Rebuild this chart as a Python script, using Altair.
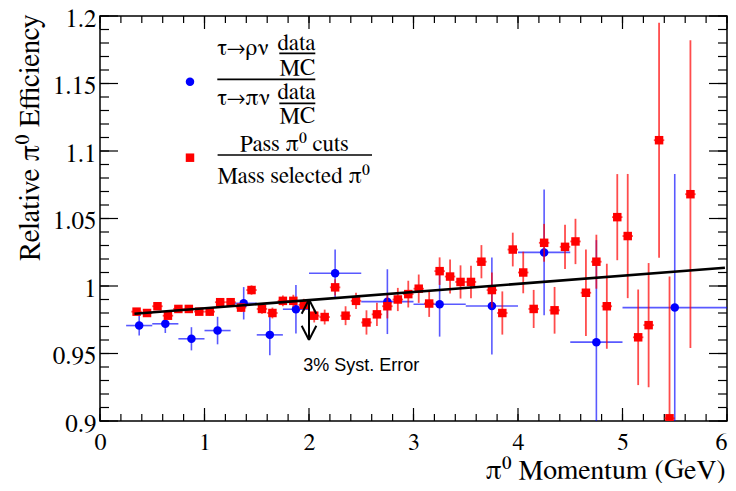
import altair as alt
import pandas as pd
import numpy as np

# ---------------- data ----------------
# Pass pi0 cuts / Mass selected pi0  (red squares, 0.1 GeV bins)
red_x = [0.35, 0.45, 0.55, 0.65, 0.75, 0.85, 0.95, 1.05, 1.15, 1.25,
         1.35, 1.45, 1.55, 1.65, 1.75, 1.85, 1.95, 2.05, 2.15, 2.25,
         2.35, 2.45, 2.55, 2.65, 2.75, 2.85, 2.95, 3.05, 3.15, 3.25,
         3.35, 3.45, 3.55, 3.65, 3.75, 3.85, 3.95, 4.05, 4.15, 4.25,
         4.35, 4.45, 4.55, 4.65, 4.75, 4.85, 4.95, 5.05, 5.15, 5.25,
         5.35, 5.45, 5.65]
red_y = [0.981, 0.980, 0.985, 0.978, 0.983, 0.983, 0.981, 0.981, 0.988, 0.988,
         0.984, 0.997, 0.983, 0.980, 0.989, 0.989, 0.986, 0.978, 0.977, 0.999,
         0.978, 0.989, 0.973, 0.979, 0.985, 0.990, 0.994, 0.998, 0.987, 1.011,
         1.007, 1.003, 1.003, 1.018, 0.997, 0.980, 1.027, 1.010, 0.983, 1.032,
         0.982, 1.029, 1.033, 0.995, 1.018, 0.985, 1.051, 1.037, 0.962, 0.971,
         1.108, 0.902, 1.068]
red_err = [0.002, 0.002, 0.002, 0.002, 0.002, 0.0025, 0.0025, 0.003, 0.003, 0.003,
           0.003, 0.0035, 0.0035, 0.004, 0.004, 0.0045, 0.0045, 0.005, 0.0055, 0.006,
           0.007, 0.006, 0.009, 0.0086, 0.009, 0.0086, 0.0099, 0.0105, 0.0099, 0.0102,
           0.0126, 0.0123, 0.012, 0.0123, 0.013, 0.016, 0.0125, 0.0154, 0.0141, 0.014,
           0.0173, 0.0164, 0.0168, 0.032, 0.02, 0.0315, 0.0319, 0.046, 0.0354, 0.046,
           0.087, 0.105, 0.114]
red_halfbin = 0.05

# tau->rho nu (data/MC) / tau->pi nu (data/MC)  (blue circles)
blue_x = [0.375, 0.625, 0.875, 1.125, 1.375, 1.625, 1.875,
          2.25, 2.75, 3.25, 3.75, 4.25, 4.75, 5.5]
blue_xerr = [0.125, 0.125, 0.125, 0.125, 0.125, 0.125, 0.125,
             0.25, 0.25, 0.25, 0.25, 0.25, 0.25, 0.5]
blue_y = [0.9707, 0.9720, 0.9609, 0.9670, 0.9872, 0.9638, 0.9828,
          1.0094, 0.9884, 0.9865, 0.9852, 1.0249, 0.9584, 0.984]
blue_err = [0.0074, 0.0068, 0.0086, 0.0102, 0.012, 0.0151, 0.018,
            0.0177, 0.024, 0.024, 0.036, 0.0465, 0.0756, 0.099]

# straight-line fit (end points)
fit_x = [0.33, 5.98]
fit_y = [0.9795, 1.0135]

# 3% systematic error arrow
syst_x = 2.0
syst_hi = 0.990
syst_lo = 0.960
syst_label = "3% Syst. Error"

# axis ticks
x_major = [0, 1, 2, 3, 4, 5, 6]
x_minor = [round(v, 2) for v in np.arange(0, 6.001, 0.2)]
y_major = [0.9, 0.95, 1.0, 1.05, 1.1, 1.15, 1.2]
y_minor = [round(v, 3) for v in np.arange(0.9, 1.2001, 0.01)]

# ---------------- styling ----------------
W, H = 627, 405
SERIF = "FreeSerif, Liberation Serif, serif"
SANS = "Liberation Sans, Arial, sans-serif"
RED = "#ff0000"
BLUE = "#0000ff"

red_df = pd.DataFrame({"x": red_x, "y": red_y})
red_df["lo"] = red_df["y"] - pd.Series(red_err)
red_df["hi"] = red_df["y"] + pd.Series(red_err)
red_df["xlo"] = red_df["x"] - red_halfbin
red_df["xhi"] = red_df["x"] + red_halfbin

blue_df = pd.DataFrame({"x": blue_x, "y": blue_y})
blue_df["lo"] = blue_df["y"] - pd.Series(blue_err)
blue_df["hi"] = blue_df["y"] + pd.Series(blue_err)
blue_df["xlo"] = blue_df["x"] - pd.Series(blue_xerr)
blue_df["xhi"] = blue_df["x"] + pd.Series(blue_xerr)

fit_df = pd.DataFrame({"x": fit_x, "y": fit_y})

hdx, hdy = 0.07, 0.0105
arrow_df = pd.DataFrame({
    "x":  [syst_x, syst_x - hdx, syst_x + hdx, syst_x - hdx, syst_x + hdx],
    "y":  [syst_lo, syst_hi - hdy, syst_hi - hdy, syst_lo + hdy, syst_lo + hdy],
    "x2": [syst_x, syst_x, syst_x, syst_x, syst_x],
    "y2": [syst_hi, syst_hi, syst_hi, syst_lo, syst_lo],
})

xscale = alt.Scale(domain=[0, 6], nice=False, zero=False)
yscale = alt.Scale(domain=[0.9, 1.2], nice=False, zero=False)

xaxis = alt.Axis(values=x_major, format="~g", ticks=False, domain=False, grid=False,
                 labelFont=SERIF, labelFontSize=24, labelColor="black", labelPadding=9,
                 labelFlush=False, labelOverlap=False, labelBound=False,
                 labelAlign={"condition": {"test": "datum.value >= 6", "value": "right"},
                             "value": "center"},
                 title="π⁰ Momentum (GeV)", titleFont=SERIF, titleFontSize=28,
                 titleFontWeight="normal", titleColor="black",
                 titleAnchor="end", titleAlign="right", titleX=625, titleY=57,
                 titleBaseline="alphabetic")
yaxis = alt.Axis(values=y_major, format="~g", ticks=False, domain=False, grid=False,
                 labelFont=SERIF, labelFontSize=25, labelColor="black", labelPadding=4,
                 labelOffset=2,
                 labelFlush=False, labelOverlap=False, labelBound=False,
                 title="Relative π⁰ Efficiency", titleFont=SERIF, titleFontSize=29,
                 titleFontWeight="normal", titleColor="black",
                 titleAnchor="end", titleAlign="right", titleAngle=270,
                 titleX=-62, titleY=-2, titleBaseline="alphabetic")

X = lambda f: alt.X(f, type="quantitative", scale=xscale, axis=xaxis)
Y = lambda f: alt.Y(f, type="quantitative", scale=yscale, axis=yaxis)

layers = []

# ticks inside the frame on all four sides
xmaj = pd.DataFrame({"t": x_major})
xmin = pd.DataFrame({"t": x_minor})
ymaj = pd.DataFrame({"t": y_major})
ymin = pd.DataFrame({"t": y_minor})
tk = dict(color="black", strokeWidth=1.2)
layers += [
    alt.Chart(xmaj).mark_rule(**tk).encode(x=X("t"), y=alt.value(H), y2=alt.value(H - 13)),
    alt.Chart(xmin).mark_rule(**tk).encode(x=X("t"), y=alt.value(H), y2=alt.value(H - 7)),
    alt.Chart(xmaj).mark_rule(**tk).encode(x=X("t"), y=alt.value(0), y2=alt.value(13)),
    alt.Chart(xmin).mark_rule(**tk).encode(x=X("t"), y=alt.value(0), y2=alt.value(7)),
    alt.Chart(ymaj).mark_rule(**tk).encode(y=Y("t"), x=alt.value(0), x2=alt.value(18)),
    alt.Chart(ymin).mark_rule(**tk).encode(y=Y("t"), x=alt.value(0), x2=alt.value(9)),
    alt.Chart(ymaj).mark_rule(**tk).encode(y=Y("t"), x=alt.value(W), x2=alt.value(W - 18)),
    alt.Chart(ymin).mark_rule(**tk).encode(y=Y("t"), x=alt.value(W), x2=alt.value(W - 9)),
]

# blue points with error bars
layers += [
    alt.Chart(blue_df).mark_rule(color=BLUE, strokeWidth=1.6, opacity=0.65, clip=True)
       .encode(x=X("x"), y=Y("lo"), y2="hi:Q"),
    alt.Chart(blue_df).mark_rule(color=BLUE, strokeWidth=1.6, opacity=0.65, clip=True)
       .encode(x=X("xlo"), x2="xhi:Q", y=Y("y")),
    alt.Chart(blue_df).mark_circle(color=BLUE, size=72, opacity=1, clip=True)
       .encode(x=X("x"), y=Y("y")),
]

# red points with error bars
layers += [
    alt.Chart(red_df).mark_rule(color=RED, strokeWidth=1.8, opacity=0.7, clip=True)
       .encode(x=X("x"), y=Y("lo"), y2="hi:Q"),
    alt.Chart(red_df).mark_rule(color=RED, strokeWidth=1.8, opacity=0.7, clip=True)
       .encode(x=X("xlo"), x2="xhi:Q", y=Y("y")),
    alt.Chart(red_df).mark_square(color=RED, size=72, opacity=1, clip=True)
       .encode(x=X("x"), y=Y("y")),
]

# fit line
layers.append(
    alt.Chart(fit_df).mark_line(color="black", strokeWidth=2.6, clip=True)
       .encode(x=X("x"), y=Y("y"))
)

# systematic error arrow + label
layers.append(
    alt.Chart(arrow_df).mark_rule(color="black", strokeWidth=2)
       .encode(x=X("x"), y=Y("y"), x2="x2:Q", y2="y2:Q")
)
dummy = pd.DataFrame({"d": [0]})
layers.append(
    alt.Chart(dummy).mark_text(font=SANS, fontSize=18, color="black",
                               align="center", baseline="middle")
       .encode(x=alt.datum(2.5), y=alt.datum(0.941), text=alt.value(syst_label))
)

# legend (hand built, ROOT style)
def txt(s, x, y, align="left", size=23):
    return alt.Chart(dummy).mark_text(font=SERIF, fontSize=size, color="black",
                                      align=align, baseline="alphabetic").encode(
        x=alt.value(x), y=alt.value(y), text=alt.value(s))

def bar(x1, x2, y, w=1.7):
    return alt.Chart(dummy).mark_rule(color="black", strokeWidth=w).encode(
        x=alt.value(x1), x2=alt.value(x2), y=alt.value(y))

layers += [
    alt.Chart(dummy).mark_circle(color=BLUE, size=72, opacity=1)
       .encode(x=alt.value(90), y=alt.value(65.7)),
    txt("τ→ρν", 117.3, 39),
    txt("data", 196.5, 34, "center"),
    bar(179.3, 215.3, 37.3),
    txt("MC", 197.3, 59, "center"),
    bar(117.3, 215.3, 63.3),
    txt("τ→πν", 117.3, 89),
    txt("data", 196.5, 83, "center"),
    bar(179.3, 215.3, 87.3),
    txt("MC", 197.3, 107.3, "center"),
    alt.Chart(dummy).mark_square(color=RED, size=72, opacity=1)
       .encode(x=alt.value(90), y=alt.value(141.7)),
    txt("Pass π⁰ cuts", 194.3, 135, "center"),
    bar(117.6, 272, 139),
    txt("Mass selected π⁰", 117.6, 167.3),
]

chart = alt.layer(*layers).properties(
    width=W, height=H,
    autosize=alt.AutoSizeParams(type="none"),
    padding={"left": 92, "top": 8, "right": 1, "bottom": 62},
    background="white",
).configure_view(stroke="black", strokeWidth=1.5)

chart.save("out.html", embed_options={"renderer": "svg", "actions": False})
